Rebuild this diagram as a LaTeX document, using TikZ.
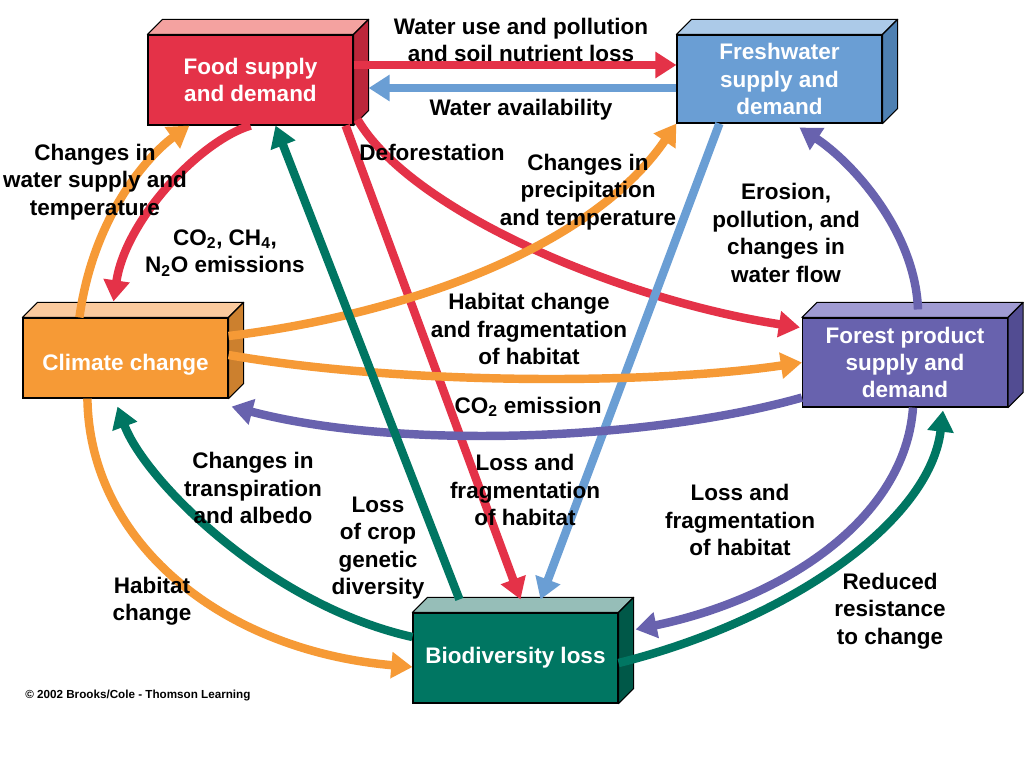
\documentclass[tikz,border=0pt]{standalone}
\usepackage{fontspec}
\setmainfont{Liberation Sans}
\definecolor{foodred}{RGB}{228,50,72}
\definecolor{foodtop}{RGB}{244,162,160}
\definecolor{foodside}{RGB}{188,38,58}
\definecolor{waterblue}{RGB}{106,158,212}
\definecolor{watertop}{RGB}{172,202,232}
\definecolor{waterside}{RGB}{78,128,178}
\definecolor{climorange}{RGB}{246,154,54}
\definecolor{climtop}{RGB}{250,202,158}
\definecolor{climside}{RGB}{204,128,46}
\definecolor{forestpurple}{RGB}{104,98,174}
\definecolor{foresttop}{RGB}{160,155,210}
\definecolor{forestside}{RGB}{82,76,146}
\definecolor{bioteal}{RGB}{0,118,98}
\definecolor{biotop}{RGB}{150,190,184}
\definecolor{bioside}{RGB}{0,88,72}
\usepackage{tikz}
\usetikzlibrary{arrows.meta,calc}

% top and right face of a box node
\newcommand{\cubefaces}[3]{%
  \filldraw[fill=#2,draw=black,line width=0.8pt,line join=round] (#1.north west) -- ++(15,-15) -- ($(#1.north east)+(15,-15)$) -- (#1.north east) -- cycle;
  \filldraw[fill=#3,draw=black,line width=0.8pt,line join=round] (#1.north east) -- ++(15,-15) -- ($(#1.south east)+(15,-15)$) -- (#1.south east) -- cycle;}

\begin{document}
\begin{tikzpicture}[x=0.025cm,y=-0.025cm,>={Triangle[length=15pt,width=18pt]},
  cube/.style={rectangle,draw=black,line width=0.8pt,text=white,align=center,inner sep=0pt,
    font=\bfseries\fontsize{16}{19.5}\selectfont,minimum width=5.125cm,minimum height=2.25cm},
  flow/.style={->,line width=6pt},
  lbl/.style={align=center,inner sep=0pt,font=\bfseries\fontsize{16}{19.5}\selectfont},
  credit/.style={inner sep=0pt,font=\bfseries\fontsize{8.3}{10}\selectfont}]

  \fill[white] (0,0) rectangle (1024,768);
  \useasboundingbox (0,0) rectangle (1024,768);

  \node[cube,fill=foodred] (food) at (250.5,80) {Food supply\\and demand};
  \node[cube,fill=waterblue,minimum height=2.2cm] (fresh) at (779.5,79) {Freshwater\\supply and\\demand};
  \node[cube,fill=climorange,minimum height=2cm] (clim) at (125.5,358) {\rule{0pt}{0.75cm}Climate change};
  \node[cube,fill=forestpurple,minimum height=2.225cm] (forest) at (905,362.5) {Forest product\\supply and\\demand};
  \node[cube,fill=bioteal] (bio) at (515.5,658) {Biodiversity loss};
  \cubefaces{food}{foodtop}{foodside}
  \cubefaces{fresh}{watertop}{waterside}
  \cubefaces{clim}{climtop}{climside}
  \cubefaces{forest}{foresttop}{forestside}
  \cubefaces{bio}{biotop}{bioside}

  % food
  \draw[flow,foodred] ($(food.east)+(0,-15)$) -- ($(fresh.west)+(0,-14)$);
  \draw[flow,foodred] (food.south) .. controls +(-50,15) and +(12,-82) .. ($(clim.north)+(-12,-16)$);
  \draw[flow,foodred] ($(food.south east)+(4,-6)$) .. controls +(53,91) and +(-181,-28) .. ($(forest.north west)+(-2,10)$);
  \draw[flow,foodred] ($(food.south east)+(-8,0)$) -- ($(bio.north)+(5,-13)$);
  % freshwater
  \draw[flow,waterblue] ($(fresh.west)+(0,9)$) -- ($(food.east)+(15,8)$);
  \draw[flow,waterblue] ($(fresh.south west)+(43,0)$) -- ($(bio.north)+(25,-13)$);
  % climate
  \draw[flow,climorange] ($(clim.north west)+(57,0)$) .. controls +(15,-108) and +(-35,25) .. ($(food.south west)+(42,0)$);
  \draw[flow,climorange] ($(clim.east)+(0,-22)$) .. controls +(172,-21) and +(-87,127) .. (fresh.south west);
  \draw[flow,climorange] ($(clim.east)+(0,-3)$) .. controls +(172,30) and +(-153,22.5) .. (forest.west);
  \draw[flow,climorange] ($(clim.south west)+(65,0)$) .. controls +(2,142) and +(-193,-17) .. ($(bio.west)+(0,9)$);
  % forest
  \draw[flow,forestpurple] ($(forest.south west)+(0,-10)$) .. controls +(-153,43) and +(169,44) .. ($(clim.south east)+(3,8)$);
  \draw[flow,forestpurple] ($(forest.north)+(13,-8)$) .. controls +(-3,-80) and +(50.5,33) .. ($(fresh.south)+(20,4)$);
  \draw[flow,forestpurple] ($(forest.south)+(8,0)$) .. controls +(-8,113) and +(145,-30) .. ($(bio.north east)+(17,17)$);
  % biodiversity
  \draw[flow,bioteal] ($(bio.north west)+(47,-13)$) -- ($(food.south)+(25,0)$);
  \draw[flow,bioteal] ($(bio.east)+(0,5)$) .. controls +(172,-43) and +(-13,110) .. ($(forest.south)+(38,3)$);
  \draw[flow,bioteal] ($(bio.west)+(0,-21)$) .. controls +(-143,-32) and +(27.5,74) .. ($(clim.south)+(-8,8)$);

  \node[lbl] (wateruse) at (521,40) {Water use and pollution\\and soil nutrient loss};
  \node[lbl] (avail) at (521,110) {Water availability};
  \node[lbl] (watsup) at (95,182) {Changes in\\water supply and\\temperature};
  \node[lbl] (ghg) at (225,253) {CO\textsubscript{2}, CH\textsubscript{4},\\N\textsubscript{2}O emissions};
  \node[lbl] (defor) at (432,152) {Deforestation};
  \node[lbl] (precip) at (588,192) {Changes in\\precipitation\\and temperature};
  \node[lbl] (erosion) at (786,233) {Erosion,\\pollution, and\\changes in\\water flow};
  \node[lbl] (habfrag) at (529,329) {Habitat change\\and fragmentation\\of habitat};
  \node[lbl] (cotwo) at (528,407) {CO\textsubscript{2} emission};
  \node[lbl] (lossmid) at (525,490) {Loss and\\fragmentation\\of habitat};
  \node[lbl] (transp) at (253,488) {Changes in\\transpiration\\and albedo};
  \node[lbl] (crop) at (378,548) {Loss\\of crop\\genetic\\diversity};
  \node[lbl] (habchg) at (152,601) {Habitat\\change};
  \node[lbl] (lossright) at (740,520) {Loss and\\fragmentation\\of habitat};
  \node[lbl] (reduced) at (890,611) {Reduced\\resistance\\to change};
  \node[credit,anchor=west] (copyr) at (25,695) {© 2002 Brooks/Cole - Thomson Learning};
\end{tikzpicture}
\end{document}
